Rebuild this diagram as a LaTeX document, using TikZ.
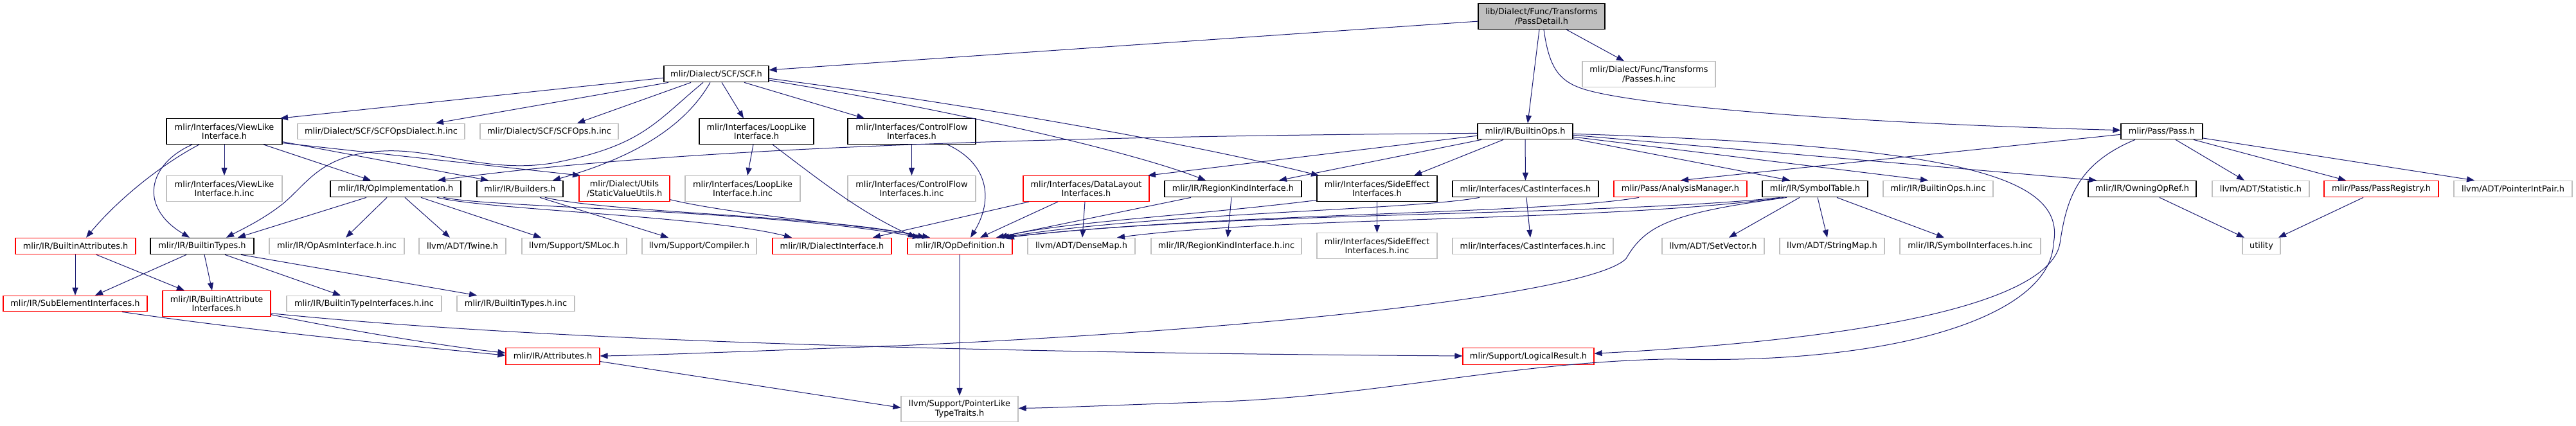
\documentclass[tikz,border=0pt]{standalone}
\usepackage{fontspec}
\setmainfont{DejaVu Sans}
\usetikzlibrary{arrows.meta}
\definecolor{edgeblue}{RGB}{25,25,112}
\definecolor{boxgray}{RGB}{191,191,191}
\definecolor{boxred}{RGB}{255,0,0}
\newcommand\mybox[7]{\node[#1,minimum width={(#4-#3)*1pt},minimum height={(#6-#5)*0.947pt}] (#2) at ({(#3+#4)/2},{(#5+#6)/2}) {#7};}
\tikzset{
  nb/.style={draw, rectangle, inner sep=0pt, line width=1.1pt, align=center, font=\fontsize{12.9}{14.6}\selectfont},
  kbox/.style={nb, draw=black},
  rbox/.style={nb, draw=boxred},
  gbox/.style={nb, draw=boxgray},
  rootbox/.style={nb, draw=black, fill=boxgray},
  dep/.style={draw=edgeblue, line width=1pt, -{Triangle[length=12pt,width=9pt]}}
}
\begin{document}
\begin{tikzpicture}[x=1pt,y=-0.947pt]
\useasboundingbox (0,0) rectangle (4008,700);
% row 0
\mybox{rootbox}{pd}{2300}{2497}{6}{48}{lib/Dialect/Func/Transforms\\/PassDetail.h}
% row 1
\mybox{kbox}{scf}{1033}{1196}{108}{135}{mlir/Dialect/SCF/SCF.h}
\mybox{gbox}{passesinc}{2462}{2669}{101}{143}{mlir/Dialect/Func/Transforms\\/Passes.h.inc}
% row 2
\mybox{kbox}{viewlike}{259}{439}{195}{237}{mlir/Interfaces/ViewLike\\Interface.h}
\mybox{gbox}{scfdialinc}{463}{723}{203}{229}{mlir/Dialect/SCF/SCFOpsDialect.h.inc}
\mybox{gbox}{scfopsinc}{747}{962}{203}{229}{mlir/Dialect/SCF/SCFOps.h.inc}
\mybox{kbox}{looplike}{1088}{1266}{195}{237}{mlir/Interfaces/LoopLike\\Interface.h}
\mybox{kbox}{cflow}{1319}{1518}{195}{237}{mlir/Interfaces/ControlFlow\\Interfaces.h}
\mybox{kbox}{bops}{2299}{2447}{203}{229}{mlir/IR/BuiltinOps.h}
\mybox{kbox}{pass}{3300}{3427}{203}{229}{mlir/Pass/Pass.h}
% row 3
\mybox{gbox}{viewlikeinc}{259}{439}{289}{331}{mlir/Interfaces/ViewLike\\Interface.h.inc}
\mybox{kbox}{opimpl}{514}{717}{297}{324}{mlir/IR/OpImplementation.h}
\mybox{kbox}{builders}{742}{876}{297}{324}{mlir/IR/Builders.h}
\mybox{rbox}{staticvalue}{901}{1042}{289}{331}{mlir/Dialect/Utils\\/StaticValueUtils.h}
\mybox{gbox}{looplikeinc}{1066}{1245}{289}{331}{mlir/Interfaces/LoopLike\\Interface.h.inc}
\mybox{gbox}{cflowinc}{1319}{1518}{289}{331}{mlir/Interfaces/ControlFlow\\Interfaces.h.inc}
\mybox{rbox}{datalayout}{1592}{1788}{289}{331}{mlir/Interfaces/DataLayout\\Interfaces.h}
\mybox{kbox}{regionkind}{1812}{2025}{297}{324}{mlir/IR/RegionKindInterface.h}
\mybox{kbox}{sideeffect}{2049}{2236}{289}{331}{mlir/Interfaces/SideEffect\\Interfaces.h}
\mybox{kbox}{cast}{2260}{2487}{297}{324}{mlir/Interfaces/CastInterfaces.h}
\mybox{rbox}{analysis}{2511}{2718}{297}{324}{mlir/Pass/AnalysisManager.h}
\mybox{kbox}{symtab}{2742}{2906}{297}{324}{mlir/IR/SymbolTable.h}
\mybox{gbox}{bopsinc}{2930}{3101}{297}{324}{mlir/IR/BuiltinOps.h.inc}
\mybox{kbox}{owning}{3249}{3417}{297}{324}{mlir/IR/OwningOpRef.h}
\mybox{gbox}{statistic}{3442}{3593}{297}{324}{llvm/ADT/Statistic.h}
\mybox{rbox}{passreg}{3616}{3794}{297}{324}{mlir/Pass/PassRegistry.h}
\mybox{gbox}{ptrint}{3818}{4002}{297}{324}{llvm/ADT/PointerIntPair.h}
% row 4
\mybox{rbox}{battr}{24}{211}{391}{418}{mlir/IR/BuiltinAttributes.h}
\mybox{kbox}{btypes}{234}{395}{391}{418}{mlir/IR/BuiltinTypes.h}
\mybox{gbox}{opasminc}{419}{629}{391}{418}{mlir/IR/OpAsmInterface.h.inc}
\mybox{gbox}{twine}{652}{787}{391}{418}{llvm/ADT/Twine.h}
\mybox{gbox}{smloc}{812}{975}{391}{418}{llvm/Support/SMLoc.h}
\mybox{gbox}{compiler}{999}{1177}{391}{418}{llvm/Support/Compiler.h}
\mybox{rbox}{dialint}{1202}{1387}{391}{418}{mlir/IR/DialectInterface.h}
\mybox{rbox}{opdef}{1412}{1575}{391}{418}{mlir/IR/OpDefinition.h}
\mybox{gbox}{densemap}{1599}{1766}{391}{418}{llvm/ADT/DenseMap.h}
\mybox{gbox}{regionkindinc}{1791}{2025}{391}{418}{mlir/IR/RegionKindInterface.h.inc}
\mybox{gbox}{sideeffectinc}{2049}{2236}{383}{425}{mlir/Interfaces/SideEffect\\Interfaces.h.inc}
\mybox{gbox}{castinc}{2260}{2510}{391}{418}{mlir/Interfaces/CastInterfaces.h.inc}
\mybox{gbox}{setvector}{2586}{2745}{391}{418}{llvm/ADT/SetVector.h}
\mybox{gbox}{stringmap}{2769}{2932}{391}{418}{llvm/ADT/StringMap.h}
\mybox{gbox}{symifinc}{2956}{3175}{391}{418}{mlir/IR/SymbolInterfaces.h.inc}
\mybox{gbox}{utility}{3489}{3548}{391}{418}{utility}
% row 5
\mybox{rbox}{subelem}{5}{229}{486}{512}{mlir/IR/SubElementInterfaces.h}
\mybox{rbox}{battrif}{253}{421}{478}{520}{mlir/IR/BuiltinAttribute\\Interfaces.h}
\mybox{gbox}{btifinc}{446}{687}{486}{512}{mlir/IR/BuiltinTypeInterfaces.h.inc}
\mybox{gbox}{btypesinc}{711}{894}{486}{512}{mlir/IR/BuiltinTypes.h.inc}
% row 6
\mybox{rbox}{attrs}{787}{933}{572}{599}{mlir/IR/Attributes.h}
\mybox{rbox}{logical}{2276}{2480}{572}{599}{mlir/Support/LogicalResult.h}
% row 7
\mybox{gbox}{ptrlike}{1402}{1584}{651}{693}{llvm/Support/PointerLike\\TypeTraits.h}

% ---- edges from PassDetail.h
\draw[dep] (pd.west |- 0,35) -- (scf.east |- 0,115);
\draw[dep] (pd.south -| 2395,0) -- (bops.north -| 2377,0);
\draw[dep] (pd.south -| 2437,0) -- (passesinc.north -| 2527,0);
\draw[dep] (pd.south -| 2402,0) .. controls (2410,110) and (2425,132) .. (2460,145) .. controls (2520,168) and (2800,200) .. (pass.west |- 0,214);
% ---- SCF.h
\draw[dep] (scf.west |- 0,128) -- (viewlike.north -| 436,0);
\draw[dep] (scf.south -| 1040,0) -- (scfdialinc.north -| 678,0);
\draw[dep] (scf.south -| 1075,0) -- (scfopsinc.north -| 898,0);
\draw[dep] (scf.south -| 1094,0) .. controls (1020,200) and (1000,240) .. (860,268) .. controls (760,285) and (680,245) .. (600,248) .. controls (500,252) and (480,300) .. (440,335) .. controls (410,360) and (380,375) .. (btypes.north -| 352,0);
\draw[dep] (scf.south -| 1105,0) .. controls (1070,200) and (1000,255) .. (builders.north -| 860,0);
\draw[dep] (scf.south -| 1123,0) -- (looplike.north -| 1157,0);
\draw[dep] (scf.south -| 1158,0) -- (cflow.north -| 1345,0);
\draw[dep] (scf.east |- 0,132) .. controls (1450,175) and (1750,245) .. (regionkind.north -| 1876,0);
\draw[dep] (scf.east |- 0,129) .. controls (1500,170) and (1850,235) .. (sideeffect.north -| 2052,0);
% ---- ViewLikeInterface.h
\draw[dep] (viewlike) -- (viewlikeinc);
\draw[dep] (viewlike.south -| 310,0) .. controls (260,265) and (190,320) .. (battr.north -| 134,0);
\draw[dep] (viewlike.south -| 299,0) .. controls (230,270) and (215,340) .. (btypes.north -| 295,0);
\draw[dep] (viewlike.south -| 410,0) -- (opimpl.north -| 577,0);
\draw[dep] (viewlike.east |- 0,233) -- (builders.north -| 760,0);
\draw[dep] (viewlike.east |- 0,235) -- (staticvalue.north -| 903,0);
% ---- OpImplementation.h
\draw[dep] (opimpl.south -| 570,0) -- (btypes.north -| 370,0);
\draw[dep] (opimpl.south -| 602,0) -- (opasminc.north -| 538,0);
\draw[dep] (opimpl.south -| 630,0) -- (twine.north -| 700,0);
\draw[dep] (opimpl.south -| 655,0) -- (smloc.north -| 842,0);
\draw[dep] (opimpl.south -| 680,0) .. controls (760,345) and (1100,355) .. (dialint.north -| 1232,0);
\draw[dep] (opimpl.south -| 690,0) .. controls (770,342) and (1200,345) .. (opdef.north -| 1432,0);
% ---- Builders.h
\draw[dep] (builders.south -| 840,0) -- (compiler.north -| 1040,0);
\draw[dep] (builders.south -| 848,0) .. controls (950,350) and (1300,355) .. (opdef.north -| 1440,0);
% ---- StaticValueUtils.h
\draw[dep] (staticvalue.east |- 0,328) .. controls (1150,355) and (1350,370) .. (opdef.north -| 1447,0);
% ---- LoopLikeInterface.h
\draw[dep] (looplike.south -| 1172,0) -- (looplikeinc.north -| 1163,0);
\draw[dep] (looplike.south -| 1202,0) .. controls (1280,300) and (1340,350) .. (opdef.north -| 1425,0);
% ---- ControlFlowInterfaces.h
\draw[dep] (cflow) -- (cflowinc);
\draw[dep] (cflow.south -| 1474,0) .. controls (1540,270) and (1545,330) .. (opdef.north -| 1510,0);
% ---- DataLayoutInterfaces.h
\draw[dep] (datalayout.south -| 1601,0) -- (dialint.north -| 1358,0);
\draw[dep] (datalayout.south -| 1646,0) -- (opdef.north -| 1525,0);
\draw[dep] (datalayout.south -| 1688,0) -- (densemap.north -| 1684,0);
% ---- RegionKindInterface.h
\draw[dep] (regionkind.south -| 1853,0) -- (opdef.north -| 1550,0);
\draw[dep] (regionkind.south -| 1916,0) -- (regionkindinc.north -| 1910,0);
% ---- SideEffectInterfaces.h
\draw[dep] (sideeffect.west |- 0,329) .. controls (1850,355) and (1650,365) .. (opdef.north -| 1555,0);
\draw[dep] (sideeffect) -- (sideeffectinc);
% ---- CastInterfaces.h
\draw[dep] (cast.south -| 2302,0) .. controls (2200,345) and (1800,350) .. (opdef.north -| 1558,0);
\draw[dep] (cast.south -| 2375,0) -- (castinc.north -| 2381,0);
% ---- AnalysisManager.h
\draw[dep] (analysis.south -| 2550,0) .. controls (2400,352) and (1900,350) .. (opdef.north -| 1562,0);
% ---- SymbolTable.h
\draw[dep] (symtab.south -| 2770,0) .. controls (2500,355) and (1900,348) .. (opdef.north -| 1566,0);
\draw[dep] (symtab.south -| 2775,0) .. controls (2500,365) and (2000,355) .. (densemap.north -| 1738,0);
\draw[dep] (symtab.south -| 2780,0) .. controls (2600,350) and (2560,370) .. (2530,425) .. controls (2480,480) and (2000,540) .. (1400,568) .. controls (1100,580) and (1000,584) .. (attrs.east |- 0,585);
\draw[dep] (symtab.south -| 2800,0) -- (setvector.north -| 2690,0);
\draw[dep] (symtab.south -| 2828,0) -- (stringmap.north -| 2843,0);
\draw[dep] (symtab.south -| 2858,0) -- (symifinc.north -| 3025,0);
% ---- BuiltinOps.h
\draw[dep] (bops.west |- 0,219) .. controls (1500,225) and (1000,250) .. (opimpl.north -| 681,0);
\draw[dep] (bops.west |- 0,223) -- (datalayout.north -| 1786,0);
\draw[dep] (bops.south -| 2305,0) -- (regionkind.north -| 1990,0);
\draw[dep] (bops.south -| 2339,0) -- (sideeffect.north -| 2200,0);
\draw[dep] (bops) -- (cast);
\draw[dep] (bops.east |- 0,228) -- (symtab.north -| 2785,0);
\draw[dep] (bops.east |- 0,225) -- (bopsinc.north -| 3000,0);
\draw[dep] (bops.east |- 0,222) -- (owning.north -| 3262,0);
\draw[dep] (bops.east |- 0,220) .. controls (3050,240) and (3215,290) .. (3195,400) .. controls (3190,520) and (2950,600) .. (2600,590) .. controls (2350,595) and (2150,650) .. (1900,660) .. controls (1750,665) and (1650,670) .. (ptrlike.east |- 0,671);
% ---- Pass.h
\draw[dep] (pass.west |- 0,221) -- (analysis.north -| 2615,0);
\draw[dep] (pass.south -| 3322,0) .. controls (3230,270) and (3215,330) .. (3205,400) .. controls (3190,490) and (2950,555) .. (logical.east |- 0,581);
\draw[dep] (pass.south -| 3385,0) -- (statistic.north -| 3492,0);
\draw[dep] (pass.south -| 3413,0) -- (passreg.north -| 3650,0);
\draw[dep] (pass.east |- 0,227) -- (ptrint.north -| 3850,0);
% ---- OwningOpRef.h, PassRegistry.h
\draw[dep] (owning.south -| 3360,0) -- (utility.north -| 3492,0);
\draw[dep] (passreg.south -| 3677,0) -- (utility.north -| 3545,0);
% ---- BuiltinTypes.h
\draw[dep] (btypes.south -| 290,0) -- (subelem.north -| 148,0);
\draw[dep] (btypes.south -| 318,0) -- (battrif.north -| 330,0);
\draw[dep] (btypes.south -| 350,0) -- (btifinc.north -| 530,0);
\draw[dep] (btypes.south -| 375,0) -- (btypesinc.north -| 742,0);
% ---- BuiltinAttributes.h
\draw[dep] (battr.south -| 117,0) -- (subelem.north -| 117,0);
\draw[dep] (battr.south -| 150,0) -- (battrif.north -| 287,0);
% ---- SubElementInterfaces.h, BuiltinAttributeInterfaces.h
\draw[dep] (subelem.south -| 190,0) .. controls (400,545) and (650,570) .. (attrs.west |- 0,584);
\draw[dep] (battrif.east |- 0,517) .. controls (550,545) and (700,570) .. (attrs.west |- 0,580);
\draw[dep] (battrif.east |- 0,515) .. controls (750,550) and (1300,578) .. (logical.west |- 0,585);
% ---- Attributes.h, OpDefinition.h
\draw[dep] (attrs.east |- 0,594) -- (ptrlike.west |- 0,670);
\draw[dep] (opdef) -- (ptrlike);
\end{tikzpicture}
\end{document}
